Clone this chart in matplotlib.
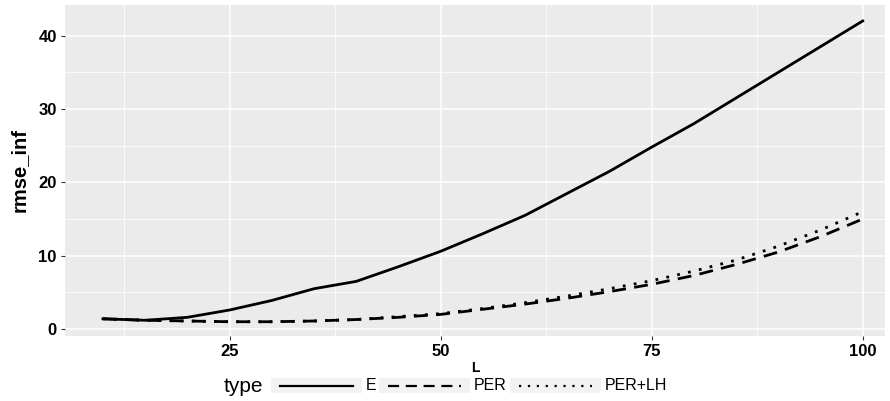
import matplotlib.pyplot as plt
from matplotlib.lines import Line2D
from matplotlib.patches import Rectangle
from matplotlib.ticker import MultipleLocator
from matplotlib import font_manager

plt.rcParams['font.family'] = ['Liberation Sans', 'DejaVu Sans']

names = {f.name for f in font_manager.fontManager.ttflist}
narrow = 'Liberation Sans Narrow' if 'Liberation Sans Narrow' in names else 'Liberation Sans'

L = [10, 15, 20, 25, 30, 35, 40, 45, 50, 55, 60, 65, 70, 75, 80, 85, 90, 95, 100]
rmse_E = [1.4, 1.2, 1.6, 2.6, 3.9, 5.5, 6.5, 8.5, 10.6, 13.0, 15.5, 18.5, 21.5, 24.8, 28.0, 31.5, 35.0, 38.5, 42.0]
rmse_PER = [1.4, 1.2, 1.1, 1.0, 1.0, 1.1, 1.3, 1.6, 2.0, 2.7, 3.4, 4.2, 5.1, 6.1, 7.3, 8.8, 10.5, 12.6, 15.0]
rmse_PERLH = [1.4, 1.2, 1.1, 1.0, 1.0, 1.1, 1.3, 1.7, 2.1, 2.8, 3.6, 4.5, 5.5, 6.6, 7.9, 9.4, 11.3, 13.5, 16.0]

types = ['E', 'PER', 'PER+LH']
styles = ['-', (0, (5, 3)), (0, (1, 3))]

fig = plt.figure(figsize=(8.9, 4.01), dpi=100)
ax = fig.add_axes([0.073, 0.162, 0.921, 0.826])
ax.set_facecolor('#EBEBEB')

for y, ls in zip([rmse_E, rmse_PER, rmse_PERLH], styles):
    ax.plot(L, y, color='black', linestyle=ls, linewidth=2.0)

ax.set_xlim(5.5, 102.6)
ax.set_ylim(-0.95, 44.2)
ax.xaxis.set_major_locator(MultipleLocator(25))
ax.xaxis.set_minor_locator(MultipleLocator(12.5))
ax.yaxis.set_major_locator(MultipleLocator(10))
ax.yaxis.set_minor_locator(MultipleLocator(5))
ax.grid(which='major', color='white', linewidth=1.1)
ax.grid(which='minor', color='white', linewidth=0.55)
ax.set_axisbelow(True)
for s in ax.spines.values():
    s.set_visible(False)
ax.tick_params(which='major', length=3, color='#333333', labelsize=12, pad=3)
ax.tick_params(which='minor', length=0)
for lab in ax.get_xticklabels() + ax.get_yticklabels():
    lab.set_fontweight('bold')
    lab.set_color('black')

ax.set_xlabel('L', fontsize=10, fontweight='bold', labelpad=1)
ax.set_ylabel('rmse_inf', fontsize=14.5, fontweight='bold', family=[narrow, 'DejaVu Sans'], labelpad=7)

# legend along the bottom
fig.text(224 / 890, 1 - 386 / 401, 'type', fontsize=15, va='center', ha='left')
key_left = [271, 379, 510]
for i, (name, ls) in enumerate(zip(types, styles)):
    x0 = key_left[i] / 890
    fig.add_artist(Rectangle((x0, 1 - 393 / 401), 91 / 890, 15 / 401,
                             transform=fig.transFigure, facecolor='#F2F2F2', edgecolor='none'))
    fig.add_artist(Line2D([x0 + 9 / 890, x0 + 82 / 890], [1 - 386 / 401] * 2,
                          transform=fig.transFigure, color='black', linestyle=ls, linewidth=1.6))
    fig.text(x0 + 95 / 890, 1 - 386 / 401, name, fontsize=11.5, va='center', ha='left')

fig.savefig('out.png', dpi=100)
